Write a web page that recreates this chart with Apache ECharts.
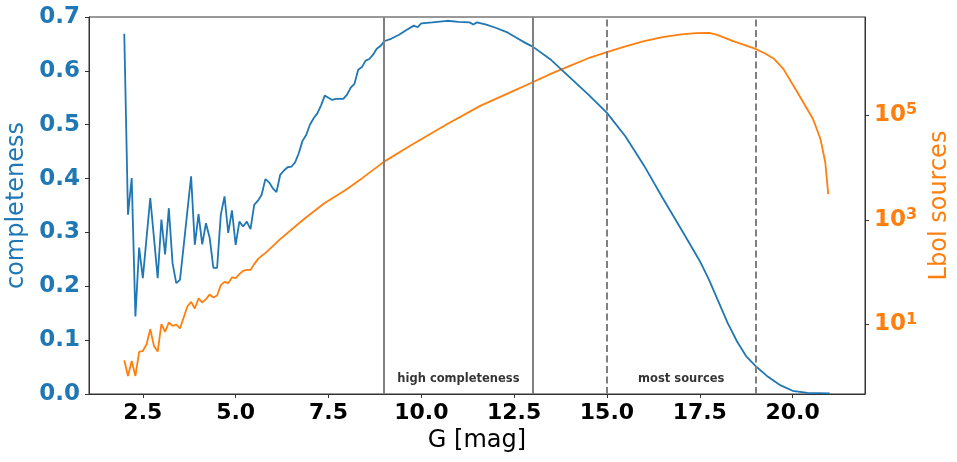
<!DOCTYPE html>
<html>
<head>
<meta charset="utf-8">
<script src="https://cdn.jsdelivr.net/npm/echarts@6/dist/echarts.min.js"></script>
<style>
  html, body { margin: 0; padding: 0; background: #fff; }
  #main { width: 957px; height: 462px; }
</style>
</head>
<body>
<div id="main"></div>
<script>
// completeness vs G magnitude (blue, left axis)
const gBlue = [2.0, 2.1, 2.2, 2.3, 2.4, 2.5, 2.6, 2.7, 2.8, 2.9, 3.0, 3.1, 3.2, 3.3, 3.4, 3.5, 3.6, 3.7, 3.8, 3.9,
  4.0, 4.1, 4.2, 4.3, 4.4, 4.5, 4.6, 4.7, 4.8, 4.9, 5.0, 5.1, 5.2, 5.3, 5.4, 5.5, 5.6, 5.7, 5.8, 5.9,
  6.0, 6.1, 6.2, 6.3, 6.4, 6.5, 6.6, 6.7, 6.8, 6.9, 7.0, 7.1, 7.2, 7.3, 7.4, 7.5, 7.6, 7.7, 7.8, 7.9,
  8.0, 8.1, 8.2, 8.3, 8.4, 8.5, 8.6, 8.7, 8.8, 8.9, 9.0, 9.2, 9.4, 9.6, 9.8, 9.9, 10.0, 10.3, 10.7, 11.0,
  11.3, 11.4, 11.5, 11.75, 12.0, 12.3, 12.55, 12.8, 13.0, 13.5, 14.0, 14.5, 15.0, 15.5, 16.0, 16.5, 17.0, 17.5, 17.75, 18.0,
  18.25, 18.5, 18.75, 19.0, 19.3, 19.65, 20.0, 20.4, 21.0]
const completeness = [0.669, 0.333, 0.401, 0.144, 0.272, 0.215, 0.29, 0.364, 0.29, 0.215, 0.324, 0.259, 0.345, 0.243, 0.206, 0.212, 0.275, 0.34, 0.404, 0.277,
  0.334, 0.278, 0.317, 0.29, 0.234, 0.234, 0.333, 0.367, 0.299, 0.341, 0.277, 0.32, 0.311, 0.32, 0.306, 0.351, 0.359, 0.37, 0.399, 0.393,
  0.382, 0.375, 0.407, 0.415, 0.421, 0.422, 0.43, 0.447, 0.47, 0.481, 0.5, 0.512, 0.521, 0.536, 0.554, 0.55, 0.546, 0.548, 0.548, 0.548,
  0.556, 0.569, 0.576, 0.602, 0.607, 0.619, 0.622, 0.63, 0.641, 0.646, 0.655, 0.66, 0.667, 0.676, 0.684, 0.681, 0.688, 0.69, 0.693, 0.691,
  0.69, 0.686, 0.69, 0.686, 0.68, 0.672, 0.662, 0.652, 0.645, 0.62, 0.588, 0.556, 0.522, 0.478, 0.424, 0.364, 0.306, 0.247, 0.212, 0.172,
  0.132, 0.098, 0.07, 0.052, 0.034, 0.017, 0.006, 0.002, 0.001]

// Lbol sources (orange, right log axis), stored as log10 of the counts
const gOrange = [2.0, 2.1, 2.2, 2.3, 2.4, 2.5, 2.6, 2.7, 2.8, 2.9, 3.0, 3.1, 3.2, 3.3, 3.4, 3.5, 3.6, 3.7, 3.8, 3.9,
  4.0, 4.1, 4.2, 4.3, 4.4, 4.5, 4.6, 4.7, 4.8, 4.9, 5.0, 5.1, 5.2, 5.3, 5.4, 5.5, 5.6, 5.7, 5.8, 6.2,
  6.85, 7.4, 7.95, 8.4, 9.0, 9.7, 10.7, 11.6, 12.5, 13.0, 13.5, 14.0, 14.5, 15.0, 15.5, 16.0, 16.5, 17.0, 17.4, 17.75,
  17.95, 18.4, 18.95, 19.25, 19.5, 19.75, 20.1, 20.55, 20.75, 20.88, 20.96]
const lbolLog = [0.317, 0.017, 0.304, 0.017, 0.476, 0.495, 0.623, 0.91, 0.591, 0.484, 1.006, 0.859, 1.038, 0.973, 1.0, 0.924, 1.134, 1.344, 1.432, 1.306,
  1.497, 1.421, 1.484, 1.574, 1.516, 1.554, 1.751, 1.815, 1.79, 1.899, 1.885, 1.962, 2.025, 2.044, 2.044, 2.153, 2.249, 2.312, 2.363, 2.631,
  3.02, 3.32, 3.565, 3.79, 4.11, 4.415, 4.83, 5.18, 5.467, 5.627, 5.79, 5.94, 6.085, 6.201, 6.31, 6.41, 6.488, 6.54, 6.565, 6.57,
  6.535, 6.411, 6.277, 6.18, 6.073, 5.881, 5.467, 4.925, 4.543, 4.098, 3.491]

const xTicks = [2.5, 5.0, 7.5, 10.0, 12.5, 15.0, 17.5, 20.0]
const rightTicks = [1, 3, 5]
const solidLines = [9, 13]
const dashedLines = [15, 19]
const notes = [[11, 0.027, 'high completeness'], [17, 0.027, 'most sources']]

const blue = '#1f77b4'
const orange = '#ff7f0e'
const font = 'DejaVu Sans'

const myChart = echarts.init(document.getElementById('main'))

const option = {
  animation: false,
  textStyle: { fontFamily: font },
  grid: {
    left: 89,
    right: 92,
    top: 17,
    bottom: 68,
    containLabel: false,
    outerBoundsMode: 'none',
    show: true,
    borderColor: '#333',
    borderWidth: 1
  },
  xAxis: {
    type: 'value',
    min: 1.05,
    max: 21.95,
    name: 'G [mag]',
    nameLocation: 'middle',
    nameGap: 32,
    nameTextStyle: { fontSize: 24, color: '#000', fontFamily: font },
    axisLine: { show: true, lineStyle: { color: '#333' } },
    axisTick: { show: true, length: 4, customValues: xTicks, lineStyle: { color: '#333' } },
    axisLabel: {
      customValues: xTicks,
      margin: 8,
      fontSize: 22,
      fontWeight: 'bold',
      color: '#000',
      fontFamily: font,
      formatter: v => v.toFixed(1)
    },
    splitLine: { show: false }
  },
  yAxis: [
    {
      type: 'value',
      min: 0,
      max: 0.7,
      interval: 0.1,
      name: 'completeness',
      nameLocation: 'middle',
      nameGap: 56,
      nameTextStyle: { fontSize: 24, color: blue, fontFamily: font },
      axisLine: { show: true, lineStyle: { color: '#333' } },
      axisTick: { show: true, length: 4, lineStyle: { color: '#333' } },
      axisLabel: {
        margin: 9,
        fontSize: 23,
        fontWeight: 'bold',
        color: blue,
        fontFamily: font,
        formatter: v => v.toFixed(1)
      },
      splitLine: { show: false }
    },
    {
      type: 'value',
      position: 'right',
      min: -0.327,
      max: 6.872,
      name: 'Lbol sources',
      nameLocation: 'middle',
      nameGap: 58,
      nameRotate: 90,
      nameTextStyle: { fontSize: 24, color: orange, fontFamily: font },
      axisLine: { show: true, lineStyle: { color: '#333' } },
      axisTick: { show: true, length: 4, customValues: rightTicks, lineStyle: { color: '#333' } },
      axisLabel: {
        customValues: rightTicks,
        margin: 9,
        formatter: v => '{b|10}{s|' + v + '}',
        rich: {
          b: { fontSize: 23, fontWeight: 'bold', color: orange, fontFamily: font },
          s: { fontSize: 16, fontWeight: 'bold', color: orange, fontFamily: font, verticalAlign: 'top', padding: [0, 0, 10, 0] }
        }
      },
      splitLine: { show: false }
    }
  ],
  series: [
    {
      name: 'completeness',
      type: 'line',
      yAxisIndex: 0,
      showSymbol: false,
      lineStyle: { color: blue, width: 1.8 },
      itemStyle: { color: blue },
      data: gBlue.map((g, i) => [g, completeness[i]]),
      z: 3,
      markLine: {
        silent: true,
        symbol: 'none',
        label: { show: false },
        data: solidLines.map(v => ({ xAxis: v, lineStyle: { color: '#808080', width: 2, type: 'solid' } }))
          .concat(dashedLines.map(v => ({ xAxis: v, lineStyle: { color: '#808080', width: 2, type: [7, 3.5] } })))
      }
    },
    {
      name: 'Lbol sources',
      type: 'line',
      yAxisIndex: 1,
      showSymbol: false,
      lineStyle: { color: orange, width: 1.8 },
      itemStyle: { color: orange },
      data: gOrange.map((g, i) => [g, lbolLog[i]]),
      z: 2
    },
    {
      name: 'notes',
      type: 'scatter',
      yAxisIndex: 0,
      symbolSize: 0,
      silent: true,
      data: notes.map(n => ({ value: [n[0], n[1]], text: n[2] })),
      label: {
        show: true,
        position: 'inside',
        formatter: p => p.data.text,
        fontSize: 11.5,
        fontWeight: 'bold',
        color: '#000',
        fontFamily: font
      }
    }
  ]
}

option && myChart.setOption(option)
</script>
</body>
</html>
